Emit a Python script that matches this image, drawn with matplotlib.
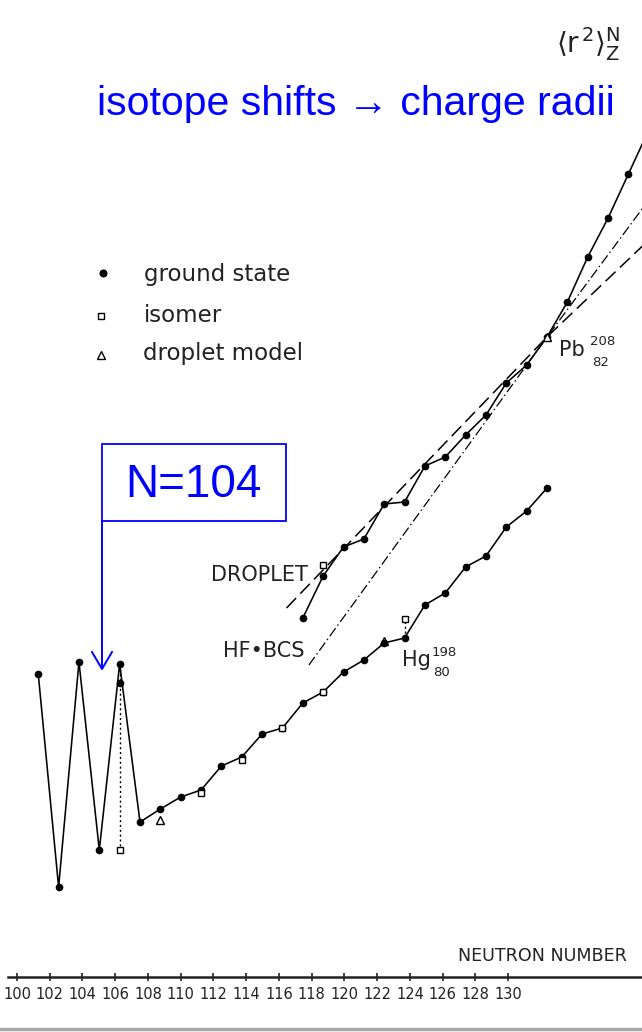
import matplotlib
matplotlib.use('Agg')
import matplotlib.pyplot as plt
from matplotlib.lines import Line2D
from matplotlib.patches import Rectangle

# ---------------- data (arbitrary units) ----------------
hg_n = list(range(101, 127))
hg_r2 = [3.26, 1.13, 3.38, 1.50, 3.36, 1.78, 1.91, 2.03, 2.10, 2.34, 2.43, 2.66, 2.72,
         2.97, 3.08, 3.28, 3.40, 3.57, 3.62, 3.95, 4.07, 4.33, 4.44, 4.73, 4.89, 5.12]
hg_extra_n = [105]
hg_extra_r2 = [3.17]
hg_iso_n = [105, 109, 111, 113, 115, 119]
hg_iso_r2 = [1.50, 2.07, 2.40, 2.72, 3.08, 3.81]
hg_drop_n = [107, 118]
hg_drop_r2 = [1.80, 3.59]

pb_n = list(range(114, 132))
pb_r2 = [3.82, 4.24, 4.53, 4.61, 4.96, 4.98, 5.34, 5.43, 5.65, 5.85, 6.17, 6.35,
         6.63, 6.98, 7.43, 7.82, 8.26, 8.70]
pb_iso_n = [115]
pb_iso_r2 = [4.35]
pb_drop_n = [126]
pb_drop_r2 = [6.63]

droplet_n = [113.2, 120, 126, 131]
droplet_r2 = [3.92, 5.36, 6.63, 7.60]
hfbcs_n = [114.3, 126, 131]
hfbcs_r2 = [3.35, 6.63, 8.00]

tick_values = list(range(100, 131, 2))

# ---------------- figure ----------------
W, H = 642, 1032
fig = plt.figure(figsize=(W / 100, H / 100), dpi=100)
fig.patch.set_facecolor('white')


def P(x, y):
    """pixel position -> figure fraction"""
    return x / W, 1 - y / H


ax = fig.add_axes([0, 0, 1, 1])
ax.set_xlim(99.12, 130.668)
ax.set_ylim(-0.32, 10.0)
ax.axis('off')

k = 'black'
# model curves
ax.plot(droplet_n, droplet_r2, color=k, lw=1.1, dashes=(9, 4), zorder=2)
ax.plot(hfbcs_n, hfbcs_r2, color=k, lw=0.9, dashes=(8, 2.5, 1.2, 2.5), zorder=2)

# Hg
ax.plot(hg_n, hg_r2, color=k, lw=1.15, marker='o', ms=4.5, zorder=3)
ax.plot(hg_extra_n, hg_extra_r2, ls='none', color=k, marker='o', ms=4.5, zorder=3)
ax.plot(hg_iso_n, hg_iso_r2, ls='none', marker='s', ms=4.5, mfc='white', mec=k, mew=1.0, zorder=4)
ax.plot(hg_drop_n, hg_drop_r2, ls='none', marker='^', ms=5.5, mfc='none', mec=k, mew=1.0, zorder=4)
# dotted connections to isomers
ax.plot([hg_iso_n[0]] * 2, [hg_r2[hg_n.index(105)], hg_iso_r2[0]], color=k, lw=1.0, ls=(0, (1.5, 2)), zorder=2)
ax.plot([hg_iso_n[-1]] * 2, [hg_r2[hg_n.index(119)], hg_iso_r2[-1]], color=k, lw=1.0, ls=(0, (1.5, 2)), zorder=2)

# Pb
ax.plot(pb_n, pb_r2, color=k, lw=1.15, marker='o', ms=4.5, zorder=3)
ax.plot(pb_iso_n, pb_iso_r2, ls='none', marker='s', ms=4.5, mfc='white', mec=k, mew=1.0, zorder=4)
ax.plot(pb_drop_n, pb_drop_r2, ls='none', marker='^', ms=5.5, mfc='white', mec=k, mew=1.0, zorder=4)

# ---------------- neutron number axis strip ----------------
ax2 = fig.add_axes([0, 1 - 977 / H, 1, 0.0005])
ax2.set_xlim(100 - 17 / 16.37, 100 + (W - 17) / 16.37)
ax2.set_ylim(0, 1)
ax2.patch.set_alpha(0)
for s in ('top', 'left', 'right'):
    ax2.spines[s].set_visible(False)
ax2.spines['bottom'].set_color('#222222')
ax2.spines['bottom'].set_linewidth(1.8)
ax2.spines['bottom'].set_bounds(100 - 9 / 16.37, 100 + (W - 17) / 16.37)
ax2.set_yticks([])
ax2.set_xticks(tick_values)
ax2.set_xticklabels([str(t) for t in tick_values],
                    fontfamily=['Liberation Sans Narrow', 'DejaVu Sans'], fontsize=10.5)
ax2.tick_params(axis='x', direction='inout', length=6, width=1.2, colors='#222222', pad=4)

fig.text(*P(458, 956), 'NEUTRON NUMBER', fontsize=12.6, color='#222222', va='center', ha='left',
         fontfamily='DejaVu Sans')

# ---------------- labels in the figure ----------------
fig.text(*P(556, 44), r'$\langle \mathrm{r}^{\,2}\rangle_{\mathrm{Z}}^{\mathrm{N}}$', fontsize=20,
         color='#222222', va='center', ha='left')

fig.text(*P(97, 104), 'isotope shifts \u2192 charge radii', fontsize=29.5, color='#0000FF',
         va='center', ha='left', fontfamily=['Liberation Sans', 'DejaVu Sans'])

# N=104 box and arrow
fig.patches.append(Rectangle(P(102, 521), (286 - 102) / W, (521 - 444) / H,
                             transform=fig.transFigure, fill=False, ec='#0000FF', lw=1.3))
fig.text(*P(193, 485), 'N=104', fontsize=33, color='#0000FF', va='center', ha='center',
         fontfamily=['Liberation Sans', 'DejaVu Sans'])
fig.add_artist(Line2D([102 / W, 102 / W], [1 - 521 / H, 1 - 668 / H], color='#0000FF', lw=1.4,
                      transform=fig.transFigure))
fig.add_artist(Line2D([92 / W, 102 / W, 112 / W], [1 - 652 / H, 1 - 669 / H, 1 - 652 / H],
                      color='#0000FF', lw=1.4, transform=fig.transFigure))

# legend
lab_font = dict(fontsize=16.5, color='#222222', va='center', ha='left', fontfamily='DejaVu Sans')
fig.add_artist(Line2D([103 / W], [1 - 273 / H], marker='o', ms=4.8, color=k, transform=fig.transFigure))
fig.add_artist(Line2D([101 / W], [1 - 316 / H], marker='s', ms=4.5, mfc='white', mec=k, mew=1.0,
                      transform=fig.transFigure))
fig.add_artist(Line2D([101 / W], [1 - 355 / H], marker='^', ms=5.5, mfc='white', mec=k, mew=1.0,
                      transform=fig.transFigure))
fig.text(*P(144, 274), 'ground state', **lab_font)
fig.text(*P(144, 315), 'isomer', **lab_font)
fig.text(*P(143, 354), 'droplet model', **lab_font)

fig.text(*P(211, 575), 'DROPLET', fontsize=15, color='#222222', va='center', ha='left')
fig.text(*P(223, 651), 'HF\u2022BCS', fontsize=15, color='#222222', va='center', ha='left')

fig.text(*P(402, 660), 'Hg', fontsize=15, color='#222222', va='center', ha='left')
fig.text(*P(432, 653), '198', fontsize=9.5, color='#222222', va='center', ha='left')
fig.text(*P(433, 673), '80', fontsize=9.5, color='#222222', va='center', ha='left')

fig.text(*P(559, 350), 'Pb', fontsize=15, color='#222222', va='center', ha='left')
fig.text(*P(590, 342), '208', fontsize=9.5, color='#222222', va='center', ha='left')
fig.text(*P(592, 362), '82', fontsize=9.5, color='#222222', va='center', ha='left')

# slide border bits
fig.add_artist(Line2D([0, 1], [1 - 1029 / H, 1 - 1029 / H], color='#a8a8a8', lw=2.5,
                      transform=fig.transFigure))

fig.savefig('out.png', dpi=100, facecolor='white')
